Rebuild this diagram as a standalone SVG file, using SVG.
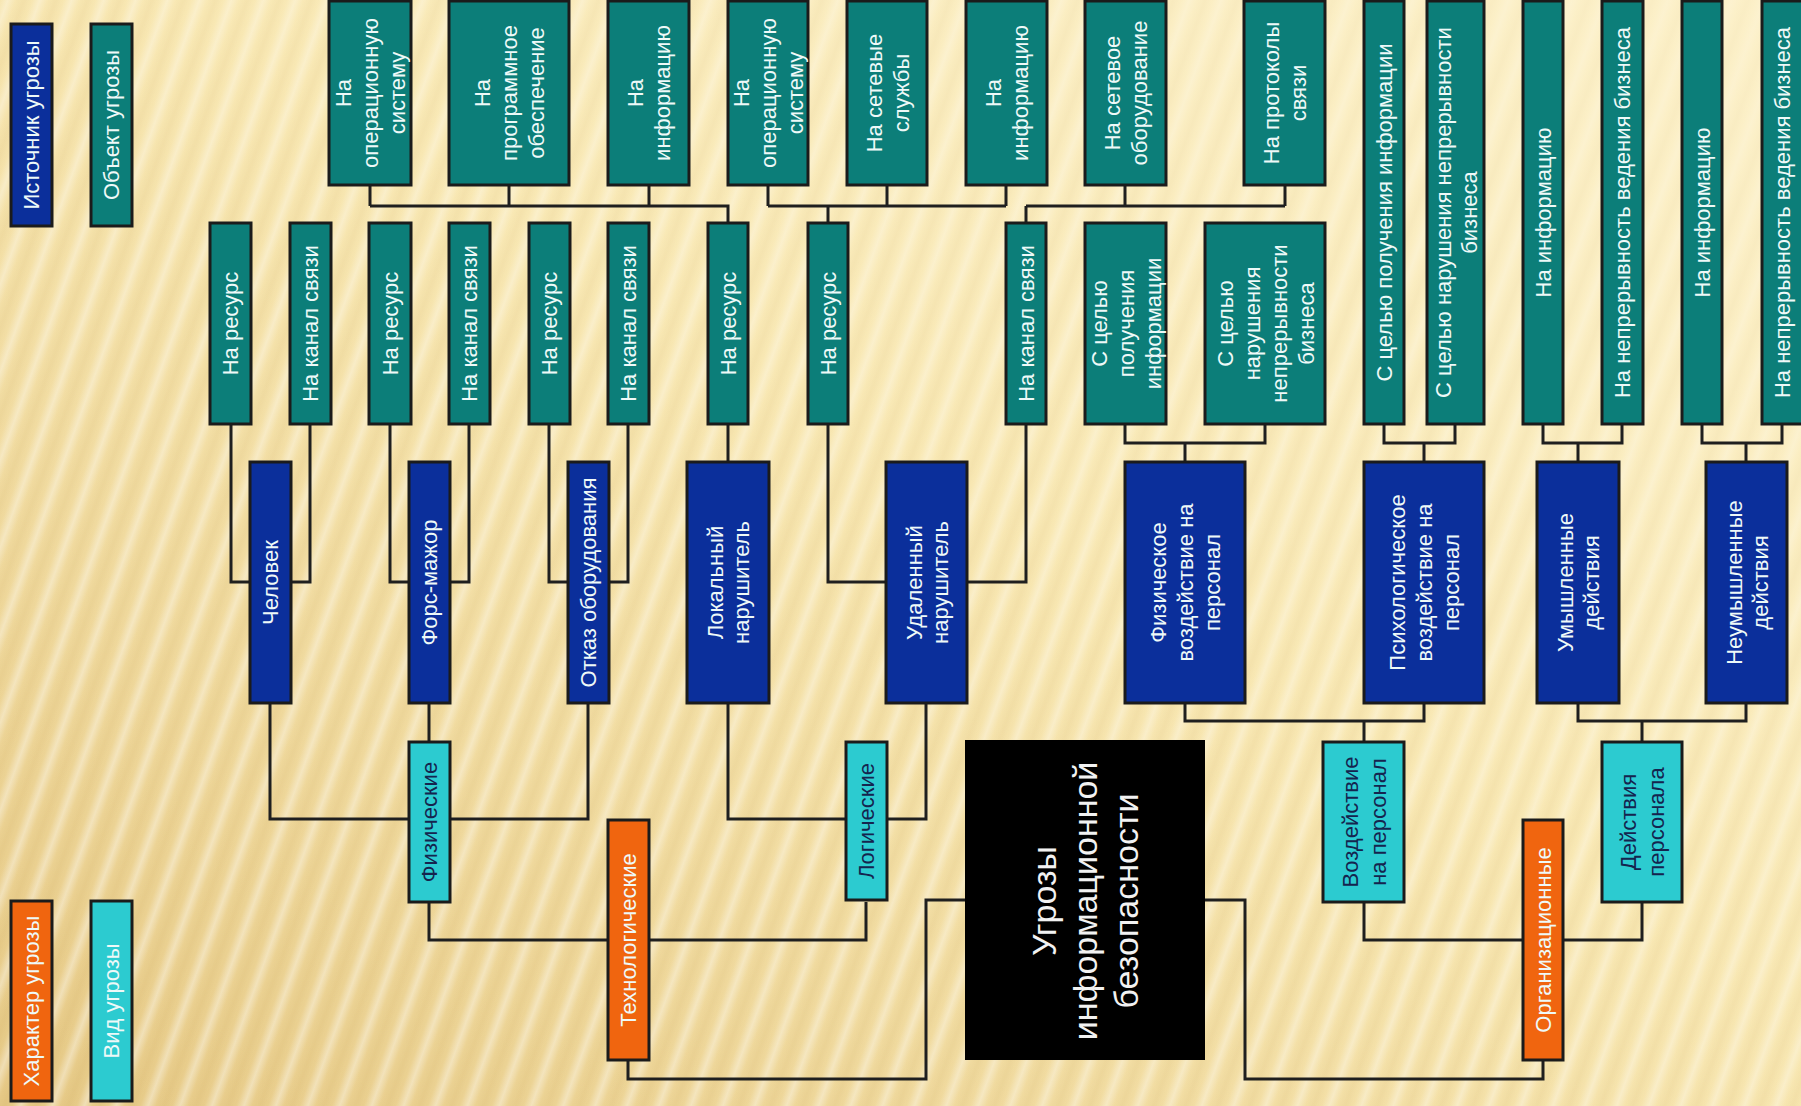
<svg xmlns="http://www.w3.org/2000/svg" width="1801" height="1106" viewBox="0 0 1801 1106">
<defs>
<linearGradient id="bg" x1="1" y1="0" x2="0" y2="1">
<stop offset="0" stop-color="#FCF1CB"/>
<stop offset="0.45" stop-color="#F7E5AC"/>
<stop offset="1" stop-color="#E6C986"/>
</linearGradient>
<linearGradient id="sg" x1="0" y1="0" x2="1" y2="0">
<stop offset="0" stop-color="#FFFFFF" stop-opacity="0"/>
<stop offset="0.5" stop-color="#FFFFFF" stop-opacity="0.38"/>
<stop offset="1" stop-color="#FFFFFF" stop-opacity="0"/>
</linearGradient>
<linearGradient id="sd" x1="0" y1="0" x2="1" y2="0">
<stop offset="0" stop-color="#B88F3C" stop-opacity="0"/>
<stop offset="0.5" stop-color="#B88F3C" stop-opacity="0.1"/>
<stop offset="1" stop-color="#B88F3C" stop-opacity="0"/>
</linearGradient>
<pattern id="stripes" width="30" height="80" patternUnits="userSpaceOnUse" patternTransform="rotate(20)">
<rect x="0" y="0" width="15" height="80" fill="url(#sg)"/>
<rect x="15" y="0" width="15" height="80" fill="url(#sd)"/>
</pattern>
<linearGradient id="fade" x1="1" y1="0" x2="0" y2="1">
<stop offset="0" stop-color="#FCF0C8" stop-opacity="0.7"/>
<stop offset="0.55" stop-color="#FCF0C8" stop-opacity="0.2"/>
<stop offset="1" stop-color="#FCF0C8" stop-opacity="0"/>
</linearGradient>
<style>
.box{stroke:#1b1b1b;stroke-width:3}
.teal{fill:#0C7E79}
.navy{fill:#0B2F9B}
.cyan{fill:#2CCBD0}
.orange{fill:#F0650F}
.blk{fill:#000000}
text{font-family:"Liberation Sans",Arial,sans-serif;font-size:22px;text-anchor:middle;dominant-baseline:central}
.tw{fill:#EEF9F8}
.td{fill:#15244E}
.big{font-size:34px;fill:#F2F2F2}
.con{fill:none;stroke:#1f1f1f;stroke-width:3;stroke-linejoin:miter}
</style>
</defs>
<rect width="1801" height="1106" fill="url(#bg)"/>
<rect width="1801" height="1106" fill="url(#stripes)"/>
<rect width="1801" height="1106" fill="url(#fade)"/>

<g id="connectors">
<path class="con" d="M370 185V206 M509 185V206 M649 185V206 M370 206H728V223
M768 185V206 M887 185V206 M1006 185V206 M768 206H1006 M828 206V223
M1125 185V206 M1285 185V206 M1026 206H1285 M1026 206V223
M231 424V582H310V424
M390 424V582H469V424
M549 424V582H628V424
M728 424V462
M828 424V582H1026V424
M1125 424V443H1265V424 M1185 443V462
M1384 424V443H1455V424 M1424 443V462
M1543 424V443H1622V424 M1578 443V462
M1702 424V443H1782V424 M1746 443V462
M270 703V819H588V703 M429 703V742
M728 703V819H926V703
M1185 703V721H1424V703 M1364 721V742
M1578 703V721H1746V703 M1642 721V742
M429 902V940H866V902
M1364 902V940H1642V902
M628 1060V1079H926V900H965
M1543 1060V1079H1245V900H1205"/>
</g>

<g id="legend-source"><rect class="box navy" x="11" y="24" width="41" height="202"/><text class="tw" transform="translate(31.5,125) rotate(-90)">Источник угрозы</text></g>
<g id="legend-object"><rect class="box teal" x="91" y="24" width="41" height="202"/><text class="tw" transform="translate(111.5,125) rotate(-90)">Объект угрозы</text></g>
<g id="legend-character"><rect class="box orange" x="11" y="901" width="41" height="200"/><text class="tw" transform="translate(31.5,1001) rotate(-90)">Характер угрозы</text></g>
<g id="legend-kind"><rect class="box cyan" x="91" y="901" width="41" height="200"/><text class="tw" transform="translate(111.5,1001) rotate(-90)">Вид угрозы</text></g>

<g id="t1"><rect class="box teal" x="329" y="1" width="82" height="184"/><text class="tw" transform="translate(370,93) rotate(-90)"><tspan x="0" y="-27">На</tspan><tspan x="0" y="0">операционную</tspan><tspan x="0" y="27">систему</tspan></text></g>
<g id="t2"><rect class="box teal" x="449" y="1" width="120" height="184"/><text class="tw" transform="translate(509,93) rotate(-90)"><tspan x="0" y="-27">На</tspan><tspan x="0" y="0">программное</tspan><tspan x="0" y="27">обеспечение</tspan></text></g>
<g id="t3"><rect class="box teal" x="608" y="1" width="81" height="184"/><text class="tw" transform="translate(648.5,93) rotate(-90)"><tspan x="0" y="-13.5">На</tspan><tspan x="0" y="13.5">информацию</tspan></text></g>
<g id="t4"><rect class="box teal" x="728" y="1" width="80" height="184"/><text class="tw" transform="translate(768,93) rotate(-90)"><tspan x="0" y="-27">На</tspan><tspan x="0" y="0">операционную</tspan><tspan x="0" y="27">систему</tspan></text></g>
<g id="t5"><rect class="box teal" x="847" y="1" width="80" height="184"/><text class="tw" transform="translate(887,93) rotate(-90)"><tspan x="0" y="-13.5">На сетевые</tspan><tspan x="0" y="13.5">службы</tspan></text></g>
<g id="t6"><rect class="box teal" x="966" y="1" width="81" height="184"/><text class="tw" transform="translate(1006.5,93) rotate(-90)"><tspan x="0" y="-13.5">На</tspan><tspan x="0" y="13.5">информацию</tspan></text></g>
<g id="t7"><rect class="box teal" x="1085" y="1" width="81" height="184"/><text class="tw" transform="translate(1125.5,93) rotate(-90)"><tspan x="0" y="-13.5">На сетевое</tspan><tspan x="0" y="13.5">оборудование</tspan></text></g>
<g id="t8"><rect class="box teal" x="1244" y="1" width="81" height="184"/><text class="tw" transform="translate(1284.5,93) rotate(-90)"><tspan x="0" y="-13.5">На протоколы</tspan><tspan x="0" y="13.5">связи</tspan></text></g>

<g id="r1"><rect class="box teal" x="210" y="223" width="41" height="201"/><text class="tw" transform="translate(230.5,323.5) rotate(-90)">На ресурс</text></g>
<g id="r2"><rect class="box teal" x="290" y="223" width="41" height="201"/><text class="tw" transform="translate(310.5,323.5) rotate(-90)">На канал связи</text></g>
<g id="r3"><rect class="box teal" x="369" y="223" width="42" height="201"/><text class="tw" transform="translate(390,323.5) rotate(-90)">На ресурс</text></g>
<g id="r4"><rect class="box teal" x="449" y="223" width="41" height="201"/><text class="tw" transform="translate(469.5,323.5) rotate(-90)">На канал связи</text></g>
<g id="r5"><rect class="box teal" x="529" y="223" width="41" height="201"/><text class="tw" transform="translate(549.5,323.5) rotate(-90)">На ресурс</text></g>
<g id="r6"><rect class="box teal" x="608" y="223" width="41" height="201"/><text class="tw" transform="translate(628.5,323.5) rotate(-90)">На канал связи</text></g>
<g id="r7"><rect class="box teal" x="708" y="223" width="40" height="201"/><text class="tw" transform="translate(728,323.5) rotate(-90)">На ресурс</text></g>
<g id="r8"><rect class="box teal" x="808" y="223" width="40" height="201"/><text class="tw" transform="translate(828,323.5) rotate(-90)">На ресурс</text></g>
<g id="r9"><rect class="box teal" x="1006" y="223" width="40" height="201"/><text class="tw" transform="translate(1026,323.5) rotate(-90)">На канал связи</text></g>
<g id="r10"><rect class="box teal" x="1085" y="223" width="81" height="201"/><text class="tw" transform="translate(1125.5,323.5) rotate(-90)"><tspan x="0" y="-27">С целью</tspan><tspan x="0" y="0">получения</tspan><tspan x="0" y="27">информации</tspan></text></g>
<g id="r11"><rect class="box teal" x="1205" y="223" width="120" height="201"/><text class="tw" transform="translate(1265,323.5) rotate(-90)"><tspan x="0" y="-40.5">С целью</tspan><tspan x="0" y="-13.5">нарушения</tspan><tspan x="0" y="13.5">непрерывности</tspan><tspan x="0" y="40.5">бизнеса</tspan></text></g>

<g id="l1"><rect class="box teal" x="1364" y="1" width="40" height="423"/><text class="tw" transform="translate(1384,212.5) rotate(-90)">С целью получения информации</text></g>
<g id="l2"><rect class="box teal" x="1427" y="1" width="57" height="423"/><text class="tw" transform="translate(1455.5,212.5) rotate(-90)"><tspan x="0" y="-13">С целью нарушения непрерывности</tspan><tspan x="0" y="13">бизнеса</tspan></text></g>
<g id="l3"><rect class="box teal" x="1523" y="1" width="40" height="423"/><text class="tw" transform="translate(1543,212.5) rotate(-90)">На информацию</text></g>
<g id="l4"><rect class="box teal" x="1602" y="1" width="41" height="423"/><text class="tw" transform="translate(1622.5,212.5) rotate(-90)">На непрерывность ведения бизнеса</text></g>
<g id="l5"><rect class="box teal" x="1682" y="1" width="40" height="423"/><text class="tw" transform="translate(1702,212.5) rotate(-90)">На информацию</text></g>
<g id="l6"><rect class="box teal" x="1762" y="1" width="41" height="423"/><text class="tw" transform="translate(1782,212.5) rotate(-90)">На непрерывность ведения бизнеса</text></g>

<g id="b1"><rect class="box navy" x="250" y="462" width="41" height="241"/><text class="tw" transform="translate(270.5,582.5) rotate(-90)">Человек</text></g>
<g id="b2"><rect class="box navy" x="409" y="462" width="41" height="241"/><text class="tw" transform="translate(429.5,582.5) rotate(-90)">Форс-мажор</text></g>
<g id="b3"><rect class="box navy" x="568" y="462" width="41" height="241"/><text class="tw" transform="translate(588.5,582.5) rotate(-90)">Отказ оборудования</text></g>
<g id="b4"><rect class="box navy" x="687" y="462" width="82" height="241"/><text class="tw" transform="translate(728,582.5) rotate(-90)"><tspan x="0" y="-13">Локальный</tspan><tspan x="0" y="13">нарушитель</tspan></text></g>
<g id="b5"><rect class="box navy" x="886" y="462" width="81" height="241"/><text class="tw" transform="translate(926.5,582.5) rotate(-90)"><tspan x="0" y="-13">Удаленный</tspan><tspan x="0" y="13">нарушитель</tspan></text></g>
<g id="b6"><rect class="box navy" x="1125" y="462" width="120" height="241"/><text class="tw" transform="translate(1185,582.5) rotate(-90)"><tspan x="0" y="-27">Физическое</tspan><tspan x="0" y="0">воздействие на</tspan><tspan x="0" y="27">персонал</tspan></text></g>
<g id="b7"><rect class="box navy" x="1364" y="462" width="120" height="241"/><text class="tw" transform="translate(1424,582.5) rotate(-90)"><tspan x="0" y="-27">Психологическое</tspan><tspan x="0" y="0">воздействие на</tspan><tspan x="0" y="27">персонал</tspan></text></g>
<g id="b8"><rect class="box navy" x="1537" y="462" width="82" height="241"/><text class="tw" transform="translate(1578,582.5) rotate(-90)"><tspan x="0" y="-13">Умышленные</tspan><tspan x="0" y="13">действия</tspan></text></g>
<g id="b9"><rect class="box navy" x="1706" y="462" width="81" height="241"/><text class="tw" transform="translate(1746.5,582.5) rotate(-90)"><tspan x="0" y="-13">Неумышленные</tspan><tspan x="0" y="13">действия</tspan></text></g>

<g id="c1"><rect class="box cyan" x="409" y="742" width="41" height="160"/><text class="td" transform="translate(429.5,822) rotate(-90)">Физические</text></g>
<g id="c2"><rect class="box cyan" x="846" y="742" width="41" height="158"/><text class="td" transform="translate(866.5,821) rotate(-90)">Логические</text></g>
<g id="c3"><rect class="box cyan" x="1323" y="742" width="81" height="160"/><text class="td" transform="translate(1363.5,822) rotate(-90)"><tspan x="0" y="-14">Воздействие</tspan><tspan x="0" y="14">на персонал</tspan></text></g>
<g id="c4"><rect class="box cyan" x="1602" y="742" width="80" height="160"/><text class="td" transform="translate(1642,822) rotate(-90)"><tspan x="0" y="-14">Действия</tspan><tspan x="0" y="14">персонала</tspan></text></g>

<g id="o1"><rect class="box orange" x="608" y="820" width="41" height="240"/><text class="tw" transform="translate(628.5,940) rotate(-90)">Технологические</text></g>
<g id="o2"><rect class="box orange" x="1523" y="820" width="40" height="240"/><text class="tw" transform="translate(1543,940) rotate(-90)">Организационные</text></g>

<g id="root"><rect class="blk" x="965" y="740" width="240" height="320"/><text class="big" transform="translate(1085,901) rotate(-90)"><tspan x="0" y="-41">Угрозы</tspan><tspan x="0" y="0">информационной</tspan><tspan x="0" y="41">безопасности</tspan></text></g>
</svg>
